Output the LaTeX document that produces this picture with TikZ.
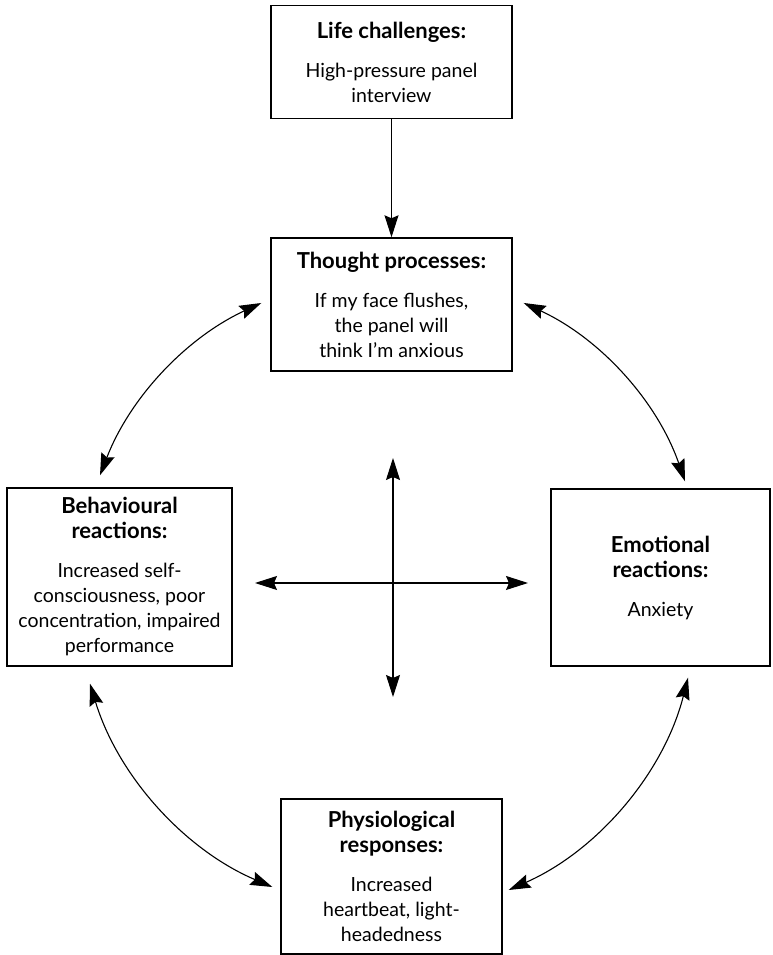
\documentclass[tikz,border=0pt]{standalone}
\usepackage{fontspec}
\setmainfont{Lato}
\usetikzlibrary{arrows.meta,positioning}
\newcommand{\boxhead}[1]{{\fontsize{22}{25}\selectfont\bfseries #1}}

\begin{document}
\begin{tikzpicture}[x=1pt,y=1pt,>={Stealth[length=22pt,width=14pt,inset=3pt]},
box/.style={draw,line width=1.4pt,align=center,inner sep=0pt,font=\fontsize{19.5}{25}\selectfont},
flow/.style={->,line width=1.1pt},
twoway/.style={<->,line width=1.1pt,looseness=.9}]
\useasboundingbox (0,0) rectangle (772,955);
\node[box,minimum width=241pt,minimum height=133pt] (thought) at (391.5,650.5) {\boxhead{Thought processes:}\\[14pt]If my face flushes,\\the panel will\\think I’m anxious};
\node[box,minimum width=241pt,minimum height=113pt,above=118pt of thought] (life) {\boxhead{Life challenges:}\\[14pt]High-pressure panel\\interview};
\node[box,minimum width=225pt,minimum height=178pt] (behav) at (119.5,378) {\boxhead{Behavioural}\\\boxhead{reactions:}\\[14pt]Increased self-\\consciousness, poor\\concentration, impaired\\performance};
\node[box,minimum width=219pt,minimum height=177pt] (emot) at (660.5,377.5) {\boxhead{Emotional}\\\boxhead{reactions:}\\[14pt]Anxiety};
\node[box,minimum width=221pt,minimum height=155pt] (physio) at (391.5,78.5) {\boxhead{Physiological}\\\boxhead{responses:}\\[14pt]Increased\\heartbeat, light-\\headedness};
% centre cross
\coordinate (crossN) at (393,497); \coordinate (crossS) at (393,258);
\coordinate (crossW) at (255,372); \coordinate (crossE) at (528,372);
\draw[twoway] (crossN)--(crossS);
\draw[twoway] (crossW)--(crossE);
\draw[flow] (life)--(thought);
\draw[twoway] ([shift={(-9pt,1.5pt)}]thought.west) to[bend right=22] ([shift={(-19.5pt,12pt)}]behav.north);
\draw[twoway] ([shift={(11pt,1.5pt)}]thought.east) to[bend left=23] ([shift={(24.5pt,7pt)}]emot.north);
\draw[twoway] ([shift={(-29.5pt,-17pt)}]behav.south) to[bend right=25] ([shift={(-8pt,-10.5pt)}]physio.west);
\draw[twoway] ([shift={(27.5pt,-11pt)}]emot.south) to[bend left=26] ([shift={(6pt,-13.5pt)}]physio.east);
\end{tikzpicture}
\end{document}
